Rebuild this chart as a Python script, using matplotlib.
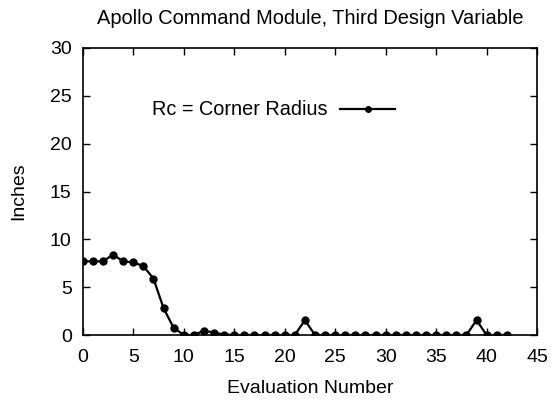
import matplotlib
matplotlib.use('Agg')
import matplotlib.pyplot as plt

plt.rcParams['font.family'] = ['Liberation Sans', 'DejaVu Sans']

# corner radius per evaluation
evaluations = list(range(43))
corner_radius = [7.7, 7.7, 7.7, 8.4, 7.7, 7.6, 7.2, 5.9, 2.8, 0.75,
                 0.0, 0.0, 0.45, 0.25, 0.05, 0.0, 0.0, 0.0, 0.0, 0.0,
                 0.0, 0.0, 1.55, 0.0, 0.0, 0.0, 0.0, 0.0, 0.0, 0.0,
                 0.0, 0.0, 0.0, 0.0, 0.0, 0.0, 0.0, 0.0, 0.0, 1.55,
                 0.0, 0.0, 0.0]
x_ticks = list(range(0, 50, 5))
y_ticks = list(range(0, 35, 5))

fig = plt.figure(figsize=(5.52, 4.0), dpi=100)
ax = fig.add_axes([0.150, 0.1625, 0.823, 0.7175])

ax.plot(evaluations, corner_radius, color='black', lw=1.6, marker='o',
        markersize=5, label='Rc = Corner Radius')

ax.set_xlim(0, 45)
ax.set_ylim(0, 30)
ax.set_xticks(x_ticks)
ax.set_yticks(y_ticks)
ax.tick_params(direction='in', top=True, right=True, length=5, width=1,
               labelsize=14)
ax.tick_params(axis='x', pad=10)
ax.tick_params(axis='y', pad=8)
for s in ax.spines.values():
    s.set_linewidth(1.2)

ax.set_xlabel('Evaluation Number', fontsize=14, labelpad=10)
ax.set_ylabel('Inches', fontsize=14, labelpad=16)
ax.set_title('Apollo Command Module, Third Design Variable', fontsize=14.4, pad=17)

ax.legend(loc='center left', bbox_to_anchor=(0.153, 0.784), frameon=False,
          markerfirst=False, handlelength=2.8, handletextpad=0.6,
          fontsize=14.3, markerscale=0.8, borderaxespad=0, borderpad=0)

fig.savefig('out.png', dpi=100)
